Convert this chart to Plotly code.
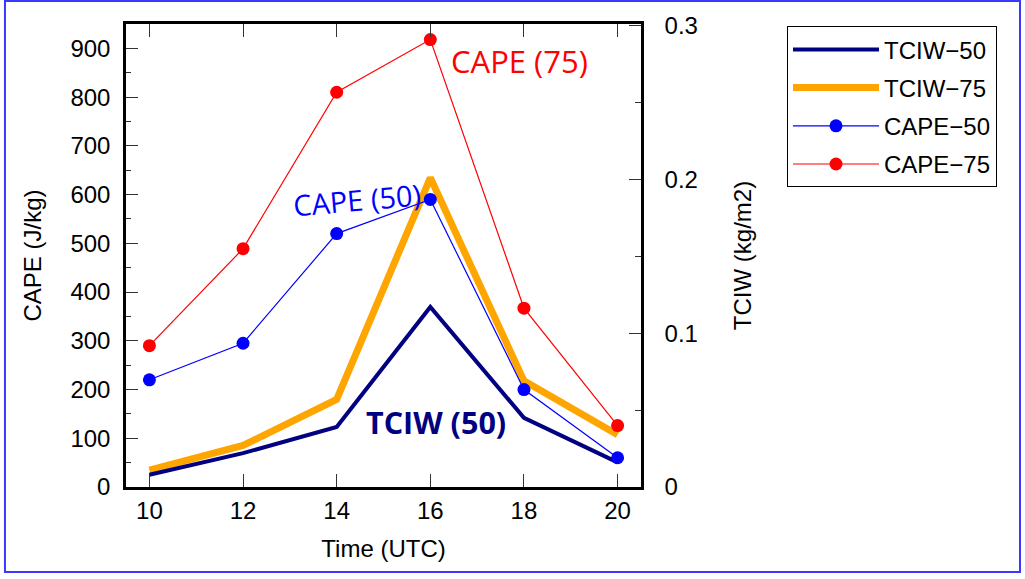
import plotly.graph_objects as go

hours = [10, 12, 14, 16, 18, 20]
tciw_50 = [0.008, 0.022, 0.039, 0.117, 0.045, 0.016]
tciw_75 = [0.011, 0.027, 0.057, 0.201, 0.069, 0.034]
cape_50 = [220, 295, 520, 590, 200, 60]
cape_75 = [290, 489, 810, 918, 367, 126]

x_ticks = [10, 12, 14, 16, 18, 20]

AX_FONT = "Liberation Sans, Arial, sans-serif"
ANN_FONT = "Open Sans, sans-serif"

fig = go.Figure()

# TCIW lines on the right axis (y), drawn below CAPE
fig.add_trace(go.Scatter(x=hours, y=tciw_75, name="TCIW\u221275", mode="lines",
                         line=dict(color="#FFA500", width=7), yaxis="y",
                         legendrank=2, legendgroup="b"))
fig.add_trace(go.Scatter(x=hours, y=tciw_50, name="TCIW\u221250", mode="lines",
                         line=dict(color="#000080", width=4), yaxis="y",
                         legendrank=1, legendgroup="a"))
# CAPE on the left axis (y2, overlaying)
fig.add_trace(go.Scatter(x=hours, y=cape_50, name="CAPE\u221250", mode="lines+markers",
                         line=dict(color="#0000FF", width=1.2),
                         marker=dict(color="#0000FF", size=13), yaxis="y2",
                         legendrank=3, legendgroup="c"))
fig.add_trace(go.Scatter(x=hours, y=cape_75, name="CAPE\u221275", mode="lines+markers",
                         line=dict(color="#FF0000", width=1.2),
                         marker=dict(color="#FF0000", size=13), yaxis="y2",
                         legendrank=4, legendgroup="d"))

tick_font = dict(family=AX_FONT, size=24, color="black")
title_font = dict(family=AX_FONT, size=24, color="black")

fig.update_layout(
    width=1025, height=579,
    margin=dict(l=126, r=384, t=24, b=92),
    paper_bgcolor="white", plot_bgcolor="white",
    showlegend=True,
    xaxis=dict(range=[9.5, 20.5], tickvals=x_ticks, ticks="inside", ticklen=13,
               tickwidth=1.3, tickcolor="#333", showline=True, linewidth=2.5,
               linecolor="black", mirror="ticks", showgrid=False, zeroline=False,
               tickfont=tick_font, ticklabelstandoff=0,
               title=dict(text="Time (UTC)", font=title_font, standoff=18)),
    yaxis=dict(range=[0, 0.301], dtick=0.1, tick0=0, side="right", anchor="x",
               ticks="inside", ticklen=12, tickwidth=1.3, tickcolor="#333",
               minor=dict(dtick=0.05, ticks="inside", ticklen=6, tickwidth=1.3, tickcolor="#333"),
               showline=True, linewidth=2.5, linecolor="black", showgrid=False,
               zeroline=False, tickfont=tick_font, ticklabelstandoff=16,
               title=dict(text="TCIW (kg/m2)", font=title_font, standoff=38)),
    yaxis2=dict(range=[0, 950], dtick=100, tick0=0, side="left", overlaying="y",
                anchor="x", ticks="inside", ticklen=12, tickwidth=1.3, tickcolor="#333",
                minor=dict(dtick=50, ticks="inside", ticklen=5, tickwidth=1.3, tickcolor="#333"),
                showline=True, linewidth=2.5, linecolor="black", showgrid=False,
                zeroline=False, tickfont=tick_font, ticklabelstandoff=8,
                title=dict(text="CAPE (J/kg)", font=title_font, standoff=23)),
    legend=dict(x=1.2835, y=0.995, xanchor="left", yanchor="top",
                bgcolor="white", bordercolor="black", borderwidth=1,
                font=dict(family=AX_FONT, size=24, color="black"),
                itemwidth=86, tracegroupgap=4, traceorder="grouped"),
)

fig.add_annotation(x=17.91, y=874, xref="x", yref="y2", text="CAPE (75)",
                   showarrow=False, font=dict(family=ANN_FONT, size=31, color="#FF0000"))
fig.add_annotation(x=14.43, y=590, xref="x", yref="y2", text="CAPE (50)", textangle=-5,
                   showarrow=False, font=dict(family=ANN_FONT, size=29, color="#0000FF"))
fig.add_annotation(x=16.12, y=134, xref="x", yref="y2", text="<b>TCIW (50)</b>",
                   showarrow=False, font=dict(family=ANN_FONT, size=30.5, color="#000080"))

# outer blue frame
fig.add_shape(type="rect", xref="paper", yref="paper",
              x0=-0.235, x1=1.7359, y0=-0.1836, y1=1.0497,
              line=dict(color="#3a3aff", width=2), layer="below")

fig.write_html("out.html", config={"displayModeBar": False},
               post_script="document.body.style.margin='0';document.body.style.overflow='hidden';")
